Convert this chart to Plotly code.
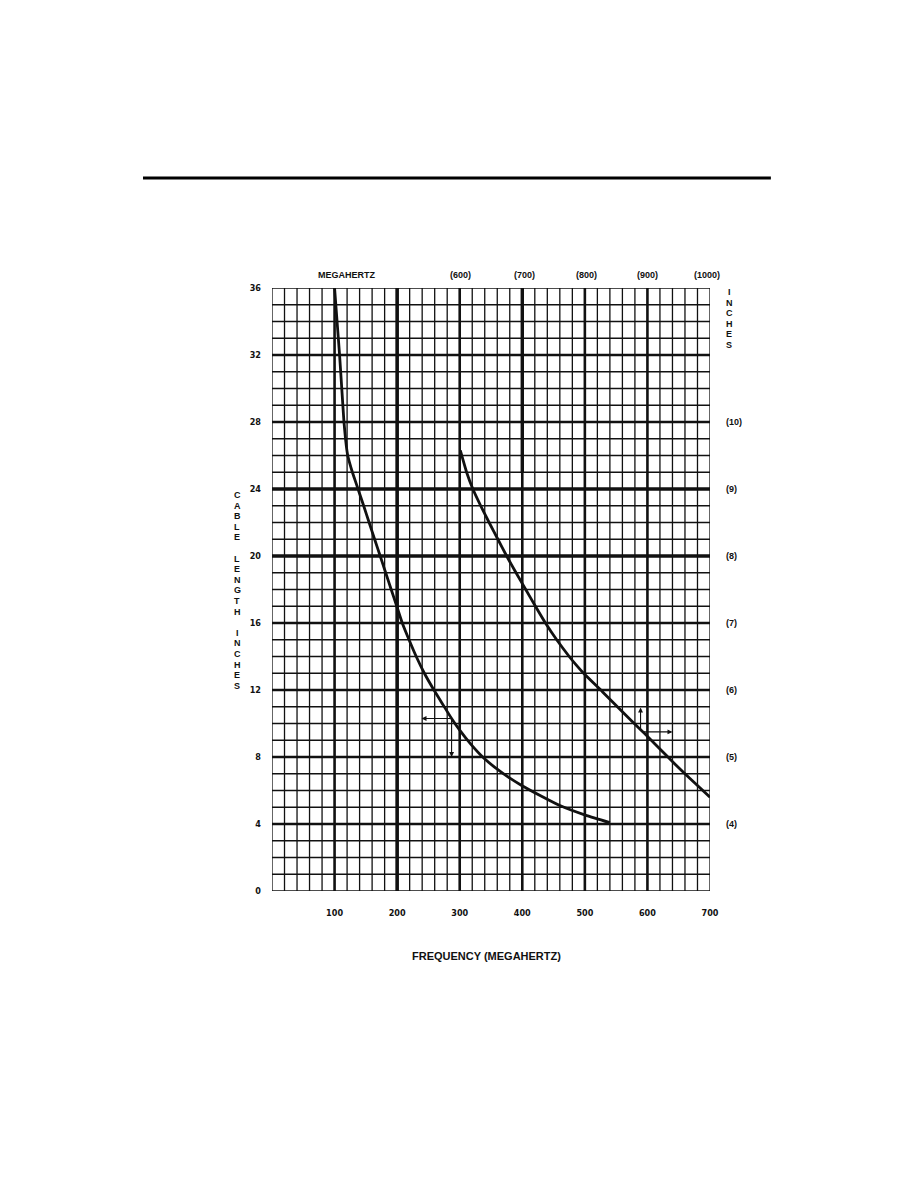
import plotly.graph_objects as go

# ---------------- data ----------------
curve1_mhz = [100, 104, 108, 111.5, 115, 117.5, 119, 121, 124.5, 128.5, 133, 137.5, 146.5,
              155.2, 164, 172.9, 181.7, 190.5, 199.4, 208.2, 219, 230.5, 243.5, 258, 272,
              287, 300, 318, 338, 368, 399, 430, 460, 503, 540]
curve1_in = [36, 34, 32, 30, 28, 27, 26.5, 26, 25.5, 25, 24.5, 24, 23,
             22, 21, 20, 19, 18, 17, 16, 15, 14, 13, 12.05, 11.2,
             10.3, 9.6, 8.75, 7.95, 7.05, 6.3, 5.67, 5.1, 4.5, 4.08]

curve2_mhz = [301, 311, 321, 333.5, 347, 361, 375, 390, 405.5, 421, 437, 455, 475, 486, 498,
              528, 560, 590, 601, 630, 657, 680, 700]
curve2_in = [26.3, 25, 24, 23, 22, 21, 20, 19, 18, 17, 16, 15, 14, 13.5, 13,
             11.9, 10.7, 9.6, 9.2, 8.1, 7.1, 6.3, 5.6]

x_tick_vals = [100, 200, 300, 400, 500, 600, 700]
x_tick_text = ["100", "200", "300", "400", "500", "600", "700"]
y_tick_vals = [0, 4, 8, 12, 16, 20, 24, 28, 32, 36]

top_label_pos = [120, 302, 403, 502, 600, 695]
top_label_text = ["MEGAHERTZ", "(600)", "(700)", "(800)", "(900)", "(1000)"]

right_label_pos = [28, 24, 20, 16, 12, 8, 4]
right_label_text = ["(10)", "(9)", "(8)", "(7)", "(6)", "(5)", "(4)"]

# arrows: (tail_x, tail_y, head_x, head_y)
arrows = [
    (287, 10.3, 239, 10.3),
    (287, 10.3, 287, 8.0),
    (589, 9.5, 589, 10.95),
    (589, 9.5, 640, 9.5),
]

X_MAX, Y_MAX = 700, 36
minor_x = list(range(0, 701, 20))
minor_y = list(range(0, 37, 1))
major_x = [100, 200, 300, 400, 500, 600]
major_y = [4, 8, 12, 16, 20, 24, 28, 32]
heavy_x = [200]
heavy_y = [20, 24]

FONT_N = "Liberation Sans Narrow, DejaVu Sans Condensed, Arial Narrow, sans-serif"
FONT = "Liberation Sans, Arial, Helvetica, sans-serif"
INK = "#111111"

fig = go.Figure()

for xs, ys in ((curve1_mhz, curve1_in), (curve2_mhz, curve2_in)):
    fig.add_trace(go.Scatter(x=xs, y=ys, mode="lines",
                             line=dict(color=INK, width=2.8, shape="spline", smoothing=0.4),
                             hoverinfo="skip", showlegend=False, cliponaxis=False))

shapes = []
for v in minor_x:
    w = 1.3
    if v in major_x:
        w = 2.6
    if v in heavy_x:
        w = 3.6
    shapes.append(dict(type="line", xref="x", yref="y", x0=v, x1=v, y0=0, y1=Y_MAX,
                       line=dict(color=INK, width=w), layer="below"))
for v in minor_y:
    w = 1.3
    if v in major_y:
        w = 2.6
    if v in heavy_y:
        w = 3.6
    shapes.append(dict(type="line", xref="x", yref="y", x0=0, x1=X_MAX, y0=v, y1=v,
                       line=dict(color=INK, width=w), layer="below"))
# heavier upper part of the 400 MHz line (as printed)
shapes.append(dict(type="line", xref="x", yref="y", x0=400, x1=400, y0=25, y1=Y_MAX,
                   line=dict(color=INK, width=3.4), layer="below"))
# header rule
shapes.append(dict(type="line", xref="paper", yref="paper", x0=-0.2945, x1=1.139,
                   y0=1.1824, y1=1.1824, line=dict(color="#000000", width=3)))

annotations = []
for p, t in zip(top_label_pos, top_label_text):
    annotations.append(dict(x=p, y=1, xref="x", yref="paper", text=t, showarrow=False,
                            xanchor="center", yanchor="bottom", yshift=6,
                            font=dict(family=FONT, size=9, color=INK, weight="bold")))
for p, t in zip(right_label_pos, right_label_text):
    annotations.append(dict(x=1, y=p, xref="paper", yref="y", text=t, showarrow=False,
                            xanchor="left", yanchor="middle", xshift=14,
                            font=dict(family=FONT, size=9, color=INK, weight="bold")))

# stacked vertical titles (one letter per line)
left_title = "CABLE LENGTH INCHES"
for i, ch in enumerate(left_title):
    if ch == " ":
        continue
    annotations.append(dict(x=0, y=1, xref="paper", yref="paper", text=ch, showarrow=False,
                            xanchor="center", yanchor="middle", xshift=-35,
                            yshift=-(495 - 288) - i * 10.6,
                            font=dict(family=FONT, size=9, color=INK, weight="bold")))
right_title = "INCHES"
for i, ch in enumerate(right_title):
    annotations.append(dict(x=1, y=1, xref="paper", yref="paper", text=ch, showarrow=False,
                            xanchor="center", yanchor="middle", xshift=19,
                            yshift=-(292 - 288) - i * 10.6,
                            font=dict(family=FONT, size=9, color=INK, weight="bold")))

annotations.append(dict(x=0.5, y=0, xref="paper", yref="paper", text="FREQUENCY (MEGAHERTZ)",
                        showarrow=False, xanchor="center", yanchor="middle", xshift=-5,
                        yshift=-(956 - 891),
                        font=dict(family=FONT, size=11, color=INK, weight="bold")))

for tx, ty, hx, hy in arrows:
    annotations.append(dict(x=hx, y=hy, ax=tx, ay=ty, xref="x", yref="y", axref="x", ayref="y",
                            text="", showarrow=True, arrowhead=2, arrowsize=0.9,
                            arrowwidth=1.1, arrowcolor=INK))

fig.update_layout(
    width=918, height=1188,
    margin=dict(l=272, r=208, t=288, b=297),
    paper_bgcolor="white", plot_bgcolor="white",
    shapes=shapes, annotations=annotations,
    showlegend=False,
    xaxis=dict(range=[0, X_MAX], showgrid=False, zeroline=False, showline=False,
               tickvals=x_tick_vals, ticktext=x_tick_text, ticks="",
               ticklabelstandoff=15,
               tickfont=dict(family=FONT_N, size=9, color=INK, weight="bold"),
               fixedrange=True),
    yaxis=dict(range=[0, Y_MAX], showgrid=False, zeroline=False, showline=False,
               tickvals=y_tick_vals, ticks="", ticklabelstandoff=10,
               tickfont=dict(family=FONT_N, size=9, color=INK, weight="bold"),
               fixedrange=True),
)

fig.write_html("out.html")
